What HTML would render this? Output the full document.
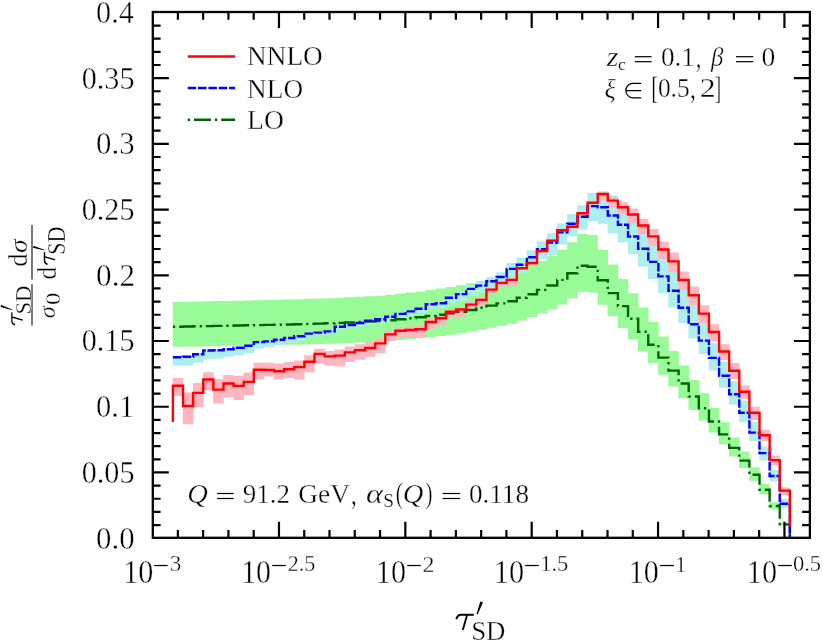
<!DOCTYPE html>
<html><head><meta charset="utf-8"><title>plot</title>
<style>html,body{margin:0;padding:0;background:#fff}svg{display:block}</style></head>
<body>
<svg width="822" height="640" viewBox="0 0 822 640" font-family="Liberation Serif, serif">
<rect width="822" height="640" fill="#fff"/>
<g opacity="0.999">
<path d="M172.70 302.00H183.21V346.75H172.70ZM182.81 301.78H193.33V346.57H182.81ZM192.93 301.55H203.44V346.39H192.93ZM203.04 301.33H213.56V346.21H203.04ZM213.16 301.11H223.67V346.03H213.16ZM223.27 300.88H233.78V345.85H223.27ZM233.38 300.66H243.90V345.67H233.38ZM243.50 300.44H254.01V345.49H243.50ZM253.61 300.21H264.13V345.31H253.61ZM263.73 299.99H274.24V345.13H263.73ZM273.84 299.77H284.35V344.94H273.84ZM283.95 299.54H294.47V344.76H283.95ZM294.07 299.21H304.58V344.49H294.07ZM304.18 298.87H314.70V344.22H304.18ZM314.30 298.54H324.81V343.95H314.30ZM324.41 298.20H334.92V343.68H324.41ZM334.52 297.76H345.04V343.32H334.52ZM344.64 297.31H355.15V342.95H344.64ZM354.75 296.75H365.27V342.50H354.75ZM364.87 296.19H375.38V342.05H364.87ZM374.98 295.63H385.49V341.60H374.98ZM385.09 294.74H395.61V340.87H385.09ZM395.21 293.74H405.72V340.06H395.21ZM405.32 292.62H415.84V339.15H405.32ZM415.44 291.39H425.95V338.16H415.44ZM425.55 290.05H436.06V337.07H425.55ZM435.66 288.60H446.18V335.89H435.66ZM445.78 287.03H456.29V334.63H445.78ZM455.89 285.25H466.41V333.18H455.89ZM466.01 283.35H476.52V331.64H466.01ZM476.12 280.89H486.63V329.65H476.12ZM486.23 278.43H496.75V327.66H486.23ZM496.35 275.98H506.86V325.67H496.35ZM506.46 273.52H516.98V323.68H506.46ZM516.58 269.72H527.09V320.60H516.58ZM526.69 265.70H537.20V317.34H526.69ZM536.80 260.90H547.32V313.45H536.80ZM546.92 255.98H557.43V309.47H546.92ZM557.03 249.73H567.55V304.40H557.03ZM567.15 242.24H577.66V298.34H567.15ZM577.26 233.98H587.77V291.64H577.26ZM587.37 234.98H597.89V292.45H587.37ZM597.49 250.06H608.00V304.67H597.49ZM607.60 264.47H618.12V316.35H607.60ZM617.72 278.99H628.23V328.11H617.72ZM627.83 293.18H638.34V339.61H627.83ZM637.94 307.59H648.46V351.28H637.94ZM648.06 322.11H658.57V363.04H648.06ZM658.17 336.52H668.69V374.72H658.17ZM668.29 351.04H678.80V386.48H668.29ZM678.40 365.45H688.91V398.16H678.40ZM688.51 379.97H699.03V409.92H688.51ZM698.63 393.15H709.14V420.60H698.63ZM708.74 407.89H719.26V432.55H708.74ZM718.86 422.30H729.37V444.22H718.86ZM728.97 437.38H739.48V456.44H728.97ZM739.08 451.57H749.60V467.93H739.08ZM749.20 467.32H759.71V480.69H749.20ZM759.31 484.07H769.83V494.27H759.31ZM769.43 502.28H779.94V509.02H769.43ZM779.54 522.83H790.05V525.67H779.54Z" fill="#98fb98"/>
<path d="M172.70 356.30H183.21V365.60H172.70ZM182.81 355.80H193.33V365.60H182.81ZM192.93 353.20H203.44V362.70H192.93ZM203.04 349.50H213.56V359.00H203.04ZM213.16 349.20H223.67V358.70H213.16ZM223.27 348.20H233.78V356.80H223.27ZM233.38 346.70H243.90V355.30H233.38ZM243.50 344.80H254.01V353.10H243.50ZM253.61 341.10H264.13V348.70H253.61ZM263.73 340.40H274.24V347.30H263.73ZM273.84 338.80H284.35V345.30H273.84ZM283.95 337.00H294.47V343.00H283.95ZM294.07 335.30H304.58V340.80H294.07ZM304.18 332.60H314.70V337.10H304.18ZM314.30 331.60H324.81V335.60H314.30ZM324.41 330.40H334.92V334.40H324.41ZM334.52 325.70H345.04V329.70H334.52ZM344.64 324.00H355.15V328.20H344.64ZM354.75 322.00H365.27V326.50H354.75ZM364.87 319.80H375.38V324.80H364.87ZM374.98 318.20H385.49V323.40H374.98ZM385.09 315.60H395.61V321.20H385.09ZM395.21 312.50H405.72V318.30H395.21ZM405.32 309.80H415.84V315.80H405.32ZM415.44 306.90H425.95V313.10H415.44ZM425.55 302.30H436.06V308.70H425.55ZM435.66 300.90H446.18V307.80H435.66ZM445.78 295.10H456.29V302.70H445.78ZM455.89 291.10H466.41V300.70H455.89ZM466.01 285.40H476.52V295.70H466.01ZM476.12 281.60H486.63V292.60H476.12ZM486.23 276.90H496.75V288.80H486.23ZM496.35 272.30H506.86V285.00H496.35ZM506.46 263.00H516.98V277.10H506.46ZM516.58 258.00H527.09V273.10H516.58ZM526.69 250.30H537.20V266.00H526.69ZM536.80 241.50H547.32V259.40H536.80ZM546.92 233.20H557.43V255.00H546.92ZM557.03 223.60H567.55V244.40H557.03ZM567.15 213.80H577.66V236.30H567.15ZM577.26 205.20H587.77V229.70H577.26ZM587.37 193.10H597.89V221.10H587.37ZM597.49 191.20H608.00V223.80H597.49ZM607.60 195.50H618.12V232.90H607.60ZM617.72 204.80H628.23V242.40H617.72ZM627.83 216.50H638.34V254.20H627.83ZM637.94 228.70H648.46V266.60H637.94ZM648.06 241.90H658.57V279.10H648.06ZM658.17 256.40H668.69V293.00H658.17ZM668.29 270.80H678.80V307.40H668.29ZM678.40 287.70H688.91V323.10H678.40ZM688.51 304.20H699.03V338.60H688.51ZM698.63 320.60H709.14V354.10H698.63ZM708.74 342.90H719.26V370.40H708.74ZM718.86 361.70H729.37V387.70H718.86ZM728.97 381.30H739.48V404.60H728.97ZM739.08 400.70H749.60V422.20H739.08ZM749.20 422.10H759.71V441.00H749.20ZM759.31 446.60H769.83V460.60H759.31ZM769.43 470.00H779.94V481.30H769.43ZM779.54 499.00H790.05V507.50H779.54Z" fill="#afeeee"/>
<path d="M172.70 378.00H183.21V396.00H172.70ZM182.81 392.60H193.33V424.30H182.81ZM192.93 382.90H203.44V407.20H192.93ZM203.04 372.20H213.56V390.20H203.04ZM213.16 379.20H223.67V403.60H213.16ZM223.27 375.00H233.78V396.90H223.27ZM233.38 375.80H243.90V400.00H233.38ZM243.50 372.50H254.01V395.00H243.50ZM253.61 362.80H264.13V379.20H253.61ZM263.73 362.70H274.24V376.60H263.73ZM273.84 363.40H284.35V379.60H273.84ZM283.95 362.00H294.47V378.10H283.95ZM294.07 360.50H304.58V379.60H294.07ZM304.18 355.30H314.70V372.20H304.18ZM314.30 348.70H324.81V363.40H314.30ZM324.41 350.90H334.92V365.60H324.41ZM334.52 349.50H345.04V366.40H334.52ZM344.64 346.50H355.15V362.00H344.64ZM354.75 344.30H365.27V359.80H354.75ZM364.87 342.10H375.38V356.80H364.87ZM374.98 338.50H385.49V353.10H374.98ZM385.09 330.80H395.61V341.00H385.09ZM395.21 327.10H405.72V338.10H395.21ZM405.32 326.40H415.84V338.10H405.32ZM415.44 324.90H425.95V338.10H415.44ZM425.55 318.30H436.06V329.30H425.55ZM435.66 316.10H446.18V324.90H435.66ZM445.78 309.50H456.29V317.50H445.78ZM455.89 307.30H466.41V316.80H455.89ZM466.01 302.10H476.52V309.50H466.01ZM476.12 297.70H486.63V305.80H476.12ZM486.23 288.00H496.75V294.00H486.23ZM496.35 281.50H506.86V286.60H496.35ZM506.46 278.50H516.98V285.40H506.46ZM516.58 267.00H527.09V269.80H516.58ZM526.69 261.80H537.20V266.00H526.69ZM536.80 250.00H547.32V252.50H536.80ZM546.92 239.60H557.43V242.00H546.92ZM557.03 229.30H567.55V231.80H557.03ZM567.15 225.80H577.66V228.50H567.15ZM577.26 212.00H587.77V216.20H577.26ZM587.37 201.60H597.89V204.30H587.37ZM597.49 192.50H608.00V200.60H597.49ZM607.60 196.90H618.12V207.20H607.60ZM617.72 202.20H628.23V214.50H617.72ZM627.83 208.60H638.34V223.30H627.83ZM637.94 218.90H648.46V234.30H637.94ZM648.06 229.10H658.57V245.90H648.06ZM658.17 241.50H668.69V259.00H658.17ZM668.29 252.40H678.80V271.60H668.29ZM678.40 271.50H688.91V290.10H678.40ZM688.51 286.40H699.03V305.50H688.51ZM698.63 305.20H709.14V323.10H698.63ZM708.74 324.20H719.26V341.50H708.74ZM718.86 344.20H729.37V360.00H718.86ZM728.97 363.10H739.48V378.90H728.97ZM739.08 385.50H749.60V398.70H739.08ZM749.20 406.80H759.71V420.00H749.20ZM759.31 429.70H769.83V441.00H759.31ZM769.43 456.00H779.94V465.30H769.43ZM779.54 487.40H790.05V495.30H779.54Z" fill="#ffb6c1"/>
<path d="M172.90 326.70H183.01V326.50H193.13V326.30H203.24V326.10H213.36V325.90H223.47V325.70H233.58V325.50H243.70V325.30H253.81V325.10H263.93V324.90H274.04V324.70H284.15V324.50H294.27V324.20H304.38V323.90H314.50V323.60H324.61V323.30H334.72V322.90H344.84V322.50H354.95V322.00H365.07V321.50H375.18V321.00H385.29V320.20H395.41V319.30H405.52V318.30H415.64V317.20H425.75V316.00H435.86V314.70H445.98V313.30H456.09V311.70H466.21V310.00H476.32V307.80H486.43V305.60H496.55V303.40H506.66V301.20H516.78V297.80H526.89V294.20H537.00V289.90H547.12V285.50H557.23V279.90H567.35V273.20H577.46V265.80H587.57V266.70H597.69V280.20H607.80V293.10H617.92V306.10H628.03V318.80H638.14V331.70H648.26V344.70H658.37V357.60H668.49V370.60H678.60V383.50H688.71V396.50H698.83V408.30H708.94V421.50H719.06V434.40H729.17V447.90H739.28V460.60H749.40V474.70H759.51V489.70H769.63V506.00H779.74V524.40H789.85V537.80" fill="none" stroke="#006400" stroke-width="2.4" stroke-dasharray="2.3 4 16.9 4"/>
<path d="M172.90 357.30H183.01V356.80H193.13V354.20H203.24V350.50H213.36V350.20H223.47V349.20H233.58V347.70H243.70V345.80H253.81V342.10H263.93V341.40H274.04V339.80H284.15V338.00H294.27V336.30H304.38V333.60H314.50V332.60H324.61V331.40H334.72V326.70H344.84V325.00H354.95V323.00H365.07V320.80H375.18V319.20H385.29V316.80H395.41V313.90H405.52V311.40H415.64V308.70H425.75V304.30H435.86V303.20H445.98V297.70H456.09V294.10H466.21V288.90H476.32V285.60H486.43V281.30H496.55V277.00H506.66V268.90H516.78V264.70H526.89V257.20H537.00V249.10H547.12V242.50H557.23V232.40H567.35V223.80H577.46V216.70H587.57V206.10H597.69V207.20H607.80V215.50H617.92V224.80H628.03V236.50H638.14V248.70H648.26V261.90H658.37V276.40H668.49V290.80H678.60V307.70H688.71V324.20H698.83V340.60H708.94V357.90H719.06V375.70H729.17V394.30H739.28V412.70H749.40V432.60H759.51V453.10H769.63V476.00H779.74V503.80H789.85V537.80" fill="none" stroke="#0000ff" stroke-width="2.4" stroke-dasharray="8.5 1.85"/>
<path d="M172.90 421.90V385.70H183.01V406.00H193.13V392.90H203.24V379.50H213.36V389.60H223.47V383.50H233.58V385.90H243.70V381.90H253.81V369.70H263.93V370.00H274.04V371.20H284.15V369.30H294.27V367.10H304.38V361.70H314.50V353.90H324.61V356.40H334.72V355.60H344.84V352.40H354.95V350.20H365.07V348.00H375.18V343.40H385.29V334.40H395.41V330.80H405.52V330.00H415.64V329.30H425.75V322.00H435.86V318.30H445.98V311.70H456.09V309.50H466.21V304.60H476.32V299.90H486.43V289.60H496.55V282.90H506.66V279.90H516.78V268.30H526.89V263.00H537.00V251.00H547.12V240.60H557.23V230.30H567.35V226.80H577.46V213.20H587.57V202.80H597.69V194.00H607.80V200.60H617.92V207.20H628.03V214.50H638.14V225.50H648.26V236.40H658.37V249.50H668.49V261.40H678.60V280.00H688.71V295.20H698.83V313.60H708.94V332.00H719.06V351.50H729.17V370.80H739.28V391.70H749.40V412.70H759.51V435.30H769.63V460.10H779.74V490.60H789.85V526.50" fill="none" stroke="#ff0000" stroke-width="2.4" stroke-linejoin="miter"/>
<path d="M177.87 537.80v-7.80M177.87 12.00v7.80M203.15 537.80v-7.80M203.15 12.00v7.80M228.42 537.80v-7.80M228.42 12.00v7.80M253.69 537.80v-7.80M253.69 12.00v7.80M278.97 537.80v-16.00M278.97 12.00v16.00M304.24 537.80v-7.80M304.24 12.00v7.80M329.51 537.80v-7.80M329.51 12.00v7.80M354.78 537.80v-7.80M354.78 12.00v7.80M380.06 537.80v-7.80M380.06 12.00v7.80M405.33 537.80v-16.00M405.33 12.00v16.00M430.60 537.80v-7.80M430.60 12.00v7.80M455.88 537.80v-7.80M455.88 12.00v7.80M481.15 537.80v-7.80M481.15 12.00v7.80M506.42 537.80v-7.80M506.42 12.00v7.80M531.70 537.80v-16.00M531.70 12.00v16.00M556.97 537.80v-7.80M556.97 12.00v7.80M582.24 537.80v-7.80M582.24 12.00v7.80M607.52 537.80v-7.80M607.52 12.00v7.80M632.79 537.80v-7.80M632.79 12.00v7.80M658.06 537.80v-16.00M658.06 12.00v16.00M683.33 537.80v-7.80M683.33 12.00v7.80M708.61 537.80v-7.80M708.61 12.00v7.80M733.88 537.80v-7.80M733.88 12.00v7.80M759.15 537.80v-7.80M759.15 12.00v7.80M784.43 537.80v-16.00M784.43 12.00v16.00M152.80 525.05h7.80M809.90 525.05h-7.80M152.80 511.91h7.80M809.90 511.91h-7.80M152.80 498.76h7.80M809.90 498.76h-7.80M152.80 485.62h7.80M809.90 485.62h-7.80M152.80 472.47h16.00M809.90 472.47h-16.00M152.80 459.33h7.80M809.90 459.33h-7.80M152.80 446.18h7.80M809.90 446.18h-7.80M152.80 433.04h7.80M809.90 433.04h-7.80M152.80 419.89h7.80M809.90 419.89h-7.80M152.80 406.75h16.00M809.90 406.75h-16.00M152.80 393.60h7.80M809.90 393.60h-7.80M152.80 380.46h7.80M809.90 380.46h-7.80M152.80 367.31h7.80M809.90 367.31h-7.80M152.80 354.17h7.80M809.90 354.17h-7.80M152.80 341.02h16.00M809.90 341.02h-16.00M152.80 327.88h7.80M809.90 327.88h-7.80M152.80 314.73h7.80M809.90 314.73h-7.80M152.80 301.59h7.80M809.90 301.59h-7.80M152.80 288.44h7.80M809.90 288.44h-7.80M152.80 275.30h16.00M809.90 275.30h-16.00M152.80 262.15h7.80M809.90 262.15h-7.80M152.80 249.01h7.80M809.90 249.01h-7.80M152.80 235.86h7.80M809.90 235.86h-7.80M152.80 222.72h7.80M809.90 222.72h-7.80M152.80 209.58h16.00M809.90 209.58h-16.00M152.80 196.43h7.80M809.90 196.43h-7.80M152.80 183.28h7.80M809.90 183.28h-7.80M152.80 170.14h7.80M809.90 170.14h-7.80M152.80 156.99h7.80M809.90 156.99h-7.80M152.80 143.85h16.00M809.90 143.85h-16.00M152.80 130.70h7.80M809.90 130.70h-7.80M152.80 117.56h7.80M809.90 117.56h-7.80M152.80 104.41h7.80M809.90 104.41h-7.80M152.80 91.27h7.80M809.90 91.27h-7.80M152.80 78.12h16.00M809.90 78.12h-16.00M152.80 64.98h7.80M809.90 64.98h-7.80M152.80 51.84h7.80M809.90 51.84h-7.80M152.80 38.69h7.80M809.90 38.69h-7.80M152.80 25.54h7.80M809.90 25.54h-7.80" stroke="#000" stroke-width="2.2" fill="none"/>
<rect x="152.80" y="12.00" width="657.10" height="525.80" fill="none" stroke="#000" stroke-width="2.3"/>
<path d="M187.7 56.5H235.1" stroke="#ff0000" stroke-width="2.4"/>
<path d="M187.7 88.0H235.1" stroke="#0000ff" stroke-width="2.4" stroke-dasharray="8.5 1.85"/>
<path d="M187.7 119.7H235.1" stroke="#006400" stroke-width="2.4" stroke-dasharray="2.3 4 16.9 4"/>
<text transform="matrix(0.2725 0 0 0.2788 247.083 65.300)" font-size="100" fill="#000" stroke="#fff" stroke-width="1.30">NNLO</text>
<text transform="matrix(0.2725 0 0 0.2788 247.082 97.500)" font-size="100" fill="#000" stroke="#fff" stroke-width="1.30">NLO</text>
<text transform="matrix(0.2762 0 0 0.2788 247.071 128.900)" font-size="100" fill="#000" stroke="#fff" stroke-width="1.30">LO</text>
<text transform="matrix(0.3077 0 0 0.3250 96.069 548.662)" font-size="100" fill="#000" stroke="#fff" stroke-width="1.30">0.0</text>
<text transform="matrix(0.3018 0 0 0.3250 81.693 482.937)" font-size="100" fill="#000" stroke="#fff" stroke-width="1.30">0.05</text>
<text transform="matrix(0.3043 0 0 0.3250 96.083 417.212)" font-size="100" fill="#000" stroke="#fff" stroke-width="1.30">0.1</text>
<text transform="matrix(0.3018 0 0 0.3250 81.693 351.488)" font-size="100" fill="#000" stroke="#fff" stroke-width="1.30">0.15</text>
<text transform="matrix(0.3117 0 0 0.3250 96.053 285.762)" font-size="100" fill="#000" stroke="#fff" stroke-width="1.30">0.2</text>
<text transform="matrix(0.3018 0 0 0.3250 81.693 220.037)" font-size="100" fill="#000" stroke="#fff" stroke-width="1.30">0.25</text>
<text transform="matrix(0.3077 0 0 0.3250 96.069 154.312)" font-size="100" fill="#000" stroke="#fff" stroke-width="1.30">0.3</text>
<text transform="matrix(0.3018 0 0 0.3250 81.693 88.588)" font-size="100" fill="#000" stroke="#fff" stroke-width="1.30">0.35</text>
<text transform="matrix(0.3013 0 0 0.3250 96.095 22.863)" font-size="100" fill="#000" stroke="#fff" stroke-width="1.30">0.4</text>
<text transform="matrix(0.3017 0 0 0.3304 123.235 582.970)" font-size="100" fill="#000" stroke="#fff" stroke-width="1.30">10</text>
<rect x="154.10" y="564.9" width="13.60" height="1.25" fill="#000"/>
<text transform="matrix(0.2313 0 0 0.2299 169.659 571.470)" font-size="100" fill="#000" stroke="#fff" stroke-width="1.30">3</text>
<text transform="matrix(0.2994 0 0 0.3304 241.155 582.970)" font-size="100" fill="#000" stroke="#fff" stroke-width="1.30">10</text>
<rect x="272.20" y="564.9" width="13.60" height="1.25" fill="#000"/>
<text transform="matrix(0.2206 0 0 0.2281 287.707 571.358)" font-size="100" fill="#000" stroke="#fff" stroke-width="1.30">2.5</text>
<text transform="matrix(0.3017 0 0 0.3304 375.835 582.970)" font-size="100" fill="#000" stroke="#fff" stroke-width="1.30">10</text>
<rect x="407.20" y="564.9" width="13.60" height="1.25" fill="#000"/>
<text transform="matrix(0.2400 0 0 0.2333 422.620 571.700)" font-size="100" fill="#000" stroke="#fff" stroke-width="1.30">2</text>
<text transform="matrix(0.3029 0 0 0.3304 493.826 582.970)" font-size="100" fill="#000" stroke="#fff" stroke-width="1.30">10</text>
<rect x="525.20" y="564.9" width="13.60" height="1.25" fill="#000"/>
<text transform="matrix(0.2240 0 0 0.2281 540.296 571.358)" font-size="100" fill="#000" stroke="#fff" stroke-width="1.30">1.5</text>
<text transform="matrix(0.3006 0 0 0.3304 628.845 582.970)" font-size="100" fill="#000" stroke="#fff" stroke-width="1.30">10</text>
<rect x="660.10" y="564.9" width="13.90" height="1.25" fill="#000"/>
<text transform="matrix(0.2197 0 0 0.2333 675.232 571.700)" font-size="100" fill="#000" stroke="#fff" stroke-width="1.30">1</text>
<text transform="matrix(0.3017 0 0 0.3304 746.835 582.970)" font-size="100" fill="#000" stroke="#fff" stroke-width="1.30">10</text>
<rect x="778.20" y="564.9" width="13.60" height="1.25" fill="#000"/>
<text transform="matrix(0.2248 0 0 0.2265 793.001 571.360)" font-size="100" fill="#000" stroke="#fff" stroke-width="1.30">0.5</text>
<text transform="matrix(0.3117 0 0 0.2700 606.412 66.200)" font-size="100" font-style="italic" fill="#000" stroke="#fff" stroke-width="1.30">z</text>
<text transform="matrix(0.1760 0 0 0.1750 617.896 69.825)" font-size="100" fill="#000" stroke="#fff" stroke-width="1.30">c</text>
<rect x="634.80" y="56.10" width="16.80" height="1.20"/><rect x="634.80" y="61.10" width="16.80" height="1.20"/>
<text transform="matrix(0.2713 0 0 0.2677 660.915 66.200)" font-size="100" fill="#000" stroke="#fff" stroke-width="1.30">0.1</text>
<text transform="matrix(0.2276 0 0 0.3059 695.790 66.812)" font-size="100" fill="#000" stroke="#fff" stroke-width="1.30">,</text>
<text transform="matrix(0.2490 0 0 0.2641 710.974 65.821)" font-size="100" font-style="italic" fill="#000" stroke="#fff" stroke-width="1.30">β</text>
<rect x="736.00" y="56.10" width="17.30" height="1.20"/><rect x="736.00" y="61.10" width="17.30" height="1.20"/>
<text transform="matrix(0.2762 0 0 0.2677 761.495 66.200)" font-size="100" fill="#000" stroke="#fff" stroke-width="1.30">0</text>
<text transform="matrix(0.2633 0 0 0.2777 604.478 97.840)" font-size="100" font-style="italic" fill="#000" stroke="#fff" stroke-width="1.30">ξ</text>
<path d="M641.2 83.40H633.0A7.2 7.2 0 0 0 633.0 97.80H641.2M626 90.60H641.2" fill="none" stroke="#000" stroke-width="1.2"/>
<text transform="matrix(0.2091 0 0 0.3120 651.232 98.987)" font-size="100" fill="#000" stroke="#fff" stroke-width="1.30">[</text>
<text transform="matrix(0.2538 0 0 0.2677 657.885 97.400)" font-size="100" fill="#000" stroke="#fff" stroke-width="1.30">0.5</text>
<text transform="matrix(0.2345 0 0 0.3059 690.062 98.012)" font-size="100" fill="#000" stroke="#fff" stroke-width="1.30">,</text>
<text transform="matrix(0.3175 0 0 0.2697 699.871 97.400)" font-size="100" fill="#000" stroke="#fff" stroke-width="1.30">2</text>
<text transform="matrix(0.2044 0 0 0.3120 714.484 98.987)" font-size="100" fill="#000" stroke="#fff" stroke-width="1.30">]</text>
<text transform="matrix(0.2862 0 0 0.2793 187.226 503.332)" font-size="100" font-style="italic" fill="#000" stroke="#fff" stroke-width="1.30">Q</text>
<rect x="217.20" y="492.90" width="16.40" height="1.20"/><rect x="217.20" y="497.90" width="16.40" height="1.20"/>
<text transform="matrix(0.2697 0 0 0.2697 242.691 503.000)" font-size="100" fill="#000" stroke="#fff" stroke-width="1.30">91.2</text>
<text transform="matrix(0.2747 0 0 0.2788 298.201 503.000)" font-size="100" fill="#000" stroke="#fff" stroke-width="1.30">GeV</text>
<text transform="matrix(0.2276 0 0 0.3059 350.990 503.612)" font-size="100" fill="#000" stroke="#fff" stroke-width="1.30">,</text>
<text transform="matrix(0.3235 0 0 0.2800 366.029 503.000)" font-size="100" font-style="italic" fill="#000" stroke="#fff" stroke-width="1.30">α</text>
<text transform="matrix(0.1930 0 0 0.1900 383.145 507.000)" font-size="100" fill="#000" stroke="#fff" stroke-width="1.30">S</text>
<text transform="matrix(0.2157 0 0 0.2912 395.629 503.239)" font-size="100" fill="#000" stroke="#fff" stroke-width="1.30">(</text>
<text transform="matrix(0.2862 0 0 0.2793 402.726 503.332)" font-size="100" font-style="italic" fill="#000" stroke="#fff" stroke-width="1.30">Q</text>
<text transform="matrix(0.2077 0 0 0.2912 425.577 503.239)" font-size="100" fill="#000" stroke="#fff" stroke-width="1.30">)</text>
<rect x="442.60" y="492.90" width="17.50" height="1.20"/><rect x="442.60" y="497.90" width="17.50" height="1.20"/>
<text transform="matrix(0.2717 0 0 0.2677 468.913 503.000)" font-size="100" fill="#000" stroke="#fff" stroke-width="1.30">0.118</text>
<path d="M456.30 619.20C457.00 616.40 458.60 614.70 461.20 614.70L473.80 614.70M467.10 614.90L462.80 630.00" fill="none" stroke="#000" stroke-width="1.90"/>
<path d="M480.3 601.6L483.0 602.6L477.6 614.4L476.5 614.0Z" fill="#000"/>
<text transform="matrix(0.2689 0 0 0.2833 471.152 639.600)" font-size="100" fill="#000" stroke="#fff" stroke-width="1.30">SD</text>
<g transform="rotate(-90)">
<rect x="-325.6" y="31.4" width="41.4" height="1.2" fill="#222"/>
<rect x="-279.6" y="31.4" width="54.8" height="1.2" fill="#222"/>
<path d="M-324.73 15.09C-324.23 13.10 -323.10 11.89 -321.25 11.89L-312.30 11.89M-317.06 12.04L-320.11 22.76" fill="none" stroke="#000" stroke-width="1.40"/>
<path d="M-306.9 0.6L-304.9 1.2L-309.5 11.9L-310.1 11.7Z" fill="#000"/>
<text transform="matrix(0.2272 0 0 0.2394 -314.577 31.400)" font-size="100" fill="#000" stroke="#fff" stroke-width="1.30">SD</text>
<text transform="matrix(0.2424 0 0 0.2229 -318.227 54.677)" font-size="100" font-style="italic" fill="#000" stroke="#fff" stroke-width="1.30">σ</text>
<text transform="matrix(0.2476 0 0 0.2059 -304.890 60.194)" font-size="100" fill="#000" stroke="#fff" stroke-width="1.30">0</text>
<text transform="matrix(0.2659 0 0 0.2667 -266.831 26.733)" font-size="100" fill="#000" stroke="#fff" stroke-width="1.30">d</text>
<text transform="matrix(0.2768 0 0 0.2438 -253.030 26.756)" font-size="100" font-style="italic" fill="#000" stroke="#fff" stroke-width="1.30">σ</text>
<text transform="matrix(0.2527 0 0 0.2738 -279.585 55.726)" font-size="100" fill="#000" stroke="#fff" stroke-width="1.30">d</text>
<path d="M-264.33 47.60C-263.84 45.64 -262.72 44.45 -260.90 44.45L-252.08 44.45M-256.77 44.59L-259.78 55.16" fill="none" stroke="#000" stroke-width="1.40"/>
<path d="M-247.8 33.0L-245.8 33.6L-249.8 44.5L-250.4 44.3Z" fill="#000"/>
<text transform="matrix(0.2196 0 0 0.2500 -254.827 64.600)" font-size="100" fill="#000" stroke="#fff" stroke-width="1.30">SD</text>
</g>
</g>
</svg>
</body></html>
